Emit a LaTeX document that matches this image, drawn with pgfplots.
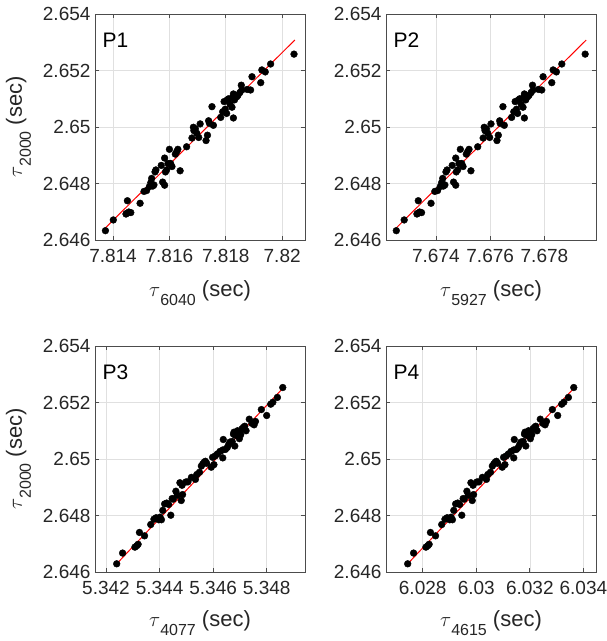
\documentclass[border=0pt]{standalone}
\usepackage{pgfplots}
\usepackage{pgfplotstable}
\usepackage{fontspec}
\setmainfont{Liberation Sans}
\pgfplotsset{compat=1.18}

\pgfplotstableread{
y x6040 x5927
2.64633 7.81373 7.67254
2.64671 7.81401 7.67283
2.64739 7.81451 7.67335
2.64694 7.81448 7.67332
2.64699 7.81456 7.67340
2.64697 7.81463 7.67347
2.64692 7.81446 7.67330
2.64730 7.81496 7.67382
2.64772 7.81510 7.67396
2.64775 7.81519 7.67406
2.64789 7.81529 7.67416
2.64803 7.81534 7.67421
2.64818 7.81537 7.67425
2.64791 7.81541 7.67428
2.64795 7.81545 7.67433
2.64841 7.81549 7.67437
2.64848 7.81552 7.67441
2.64864 7.81571 7.67460
2.64805 7.81576 7.67465
2.64890 7.81583 7.67473
2.64794 7.81583 7.67473
2.64841 7.81586 7.67475
2.64848 7.81590 7.67480
2.64871 7.81595 7.67485
2.64921 7.81600 7.67490
2.64871 7.81604 7.67495
2.64860 7.81609 7.67500
2.64904 7.81621 7.67512
2.64913 7.81626 7.67517
2.64921 7.81630 7.67522
2.64845 7.81638 7.67529
2.64930 7.81661 7.67554
2.64961 7.81680 7.67574
2.64999 7.81685 7.67578
2.64987 7.81687 7.67581
2.64994 7.81692 7.67586
2.64978 7.81697 7.67591
2.64963 7.81704 7.67598
2.65011 7.81709 7.67603
2.64952 7.81730 7.67625
2.64971 7.81735 7.67630
2.65022 7.81739 7.67635
2.65013 7.81742 7.67637
2.65072 7.81751 7.67647
2.65006 7.81756 7.67652
2.65034 7.81782 7.67679
2.65054 7.81789 7.67687
2.65090 7.81794 7.67692
2.65063 7.81798 7.67697
2.65048 7.81803 7.67701
2.65096 7.81805 7.67704
2.65100 7.81810 7.67709
2.65081 7.81815 7.67714
2.65070 7.81822 7.67721
2.65105 7.81824 7.67724
2.65117 7.81827 7.67726
2.65032 7.81827 7.67726
2.65096 7.81831 7.67731
2.65107 7.81839 7.67738
2.65112 7.81843 7.67743
2.65122 7.81850 7.67751
2.65148 7.81855 7.67756
2.65131 7.81857 7.67758
2.65133 7.81876 7.67778
2.65131 7.81888 7.67790
2.65178 7.81893 7.67795
2.65157 7.81924 7.67827
2.65202 7.81928 7.67832
2.65195 7.81940 7.67844
2.65223 7.81959 7.67864
2.65258 7.82042 7.67950
}\tableA

\pgfplotstableread{
y x4077 x4615
2.64629 5.34240 6.02744
2.64667 5.34262 6.02766
2.64688 5.34308 6.02812
2.64693 5.34315 6.02819
2.64698 5.34320 6.02824
2.64740 5.34325 6.02829
2.64728 5.34344 6.02848
2.64768 5.34367 6.02871
2.64787 5.34379 6.02883
2.64792 5.34387 6.02891
2.64785 5.34397 6.02901
2.64794 5.34402 6.02906
2.64785 5.34407 6.02911
2.64818 5.34412 6.02916
2.64841 5.34419 6.02923
2.64844 5.34427 6.02931
2.64839 5.34434 6.02938
2.64801 5.34442 6.02946
2.64860 5.34447 6.02951
2.64858 5.34451 6.02955
2.64886 5.34461 6.02965
2.64872 5.34466 6.02970
2.64916 5.34476 6.02980
2.64853 5.34481 6.02985
2.64907 5.34484 6.02988
2.64874 5.34486 6.02990
2.64919 5.34499 6.03003
2.64919 5.34506 6.03010
2.64935 5.34519 6.03023
2.64928 5.34534 6.03038
2.64945 5.34539 6.03043
2.64953 5.34549 6.03053
2.64975 5.34556 6.03060
2.64982 5.34561 6.03065
2.64988 5.34566 6.03070
2.64992 5.34571 6.03075
2.64985 5.34576 6.03080
2.64971 5.34593 6.03097
2.65006 5.34598 6.03102
2.64980 5.34603 6.03107
2.65011 5.34608 6.03112
2.65018 5.34616 6.03120
2.65027 5.34626 6.03130
2.65032 5.34636 6.03140
2.65069 5.34638 6.03142
2.65004 5.34636 6.03140
2.65034 5.34646 6.03150
2.65041 5.34653 6.03157
2.65051 5.34658 6.03162
2.65060 5.34663 6.03167
2.65062 5.34671 6.03175
2.65088 5.34676 6.03180
2.65095 5.34678 6.03182
2.65046 5.34681 6.03185
2.65084 5.34683 6.03187
2.65100 5.34691 6.03195
2.65093 5.34696 6.03200
2.65072 5.34698 6.03202
2.65086 5.34703 6.03207
2.65107 5.34708 6.03212
2.65112 5.34713 6.03217
2.65116 5.34718 6.03222
2.65100 5.34723 6.03227
2.65141 5.34735 6.03239
2.65126 5.34745 6.03249
2.65121 5.34753 6.03257
2.65133 5.34758 6.03262
2.65175 5.34780 6.03284
2.65154 5.34800 6.03304
2.65194 5.34815 6.03319
2.65201 5.34823 6.03327
2.65218 5.34840 6.03344
2.65253 5.34860 6.03364
}\tableB

\definecolor{axgray}{gray}{0.3}
\definecolor{txgray}{gray}{0.15}
\definecolor{grgray}{gray}{0.88}

\pgfplotsset{
  panel/.style={
    scale only axis,
    width=210pt, height=226pt,
    ymin=2.646, ymax=2.654,
    ytick={2.646,2.648,2.65,2.652,2.654},
    yticklabels={2.646,2.648,2.65,2.652,2.654},
    grid=major,
    grid style={grgray, line width=0.6pt},
    axis line style={axgray, line width=0.8pt},
    tick style={axgray, line width=0.8pt},
    tick align=inside,
    major tick length=4pt,
    tick label style={font=\fontsize{19}{19}\selectfont, text=txgray},
    xticklabel style={yshift=-5.5pt},
    yticklabel style={xshift=-1pt},
    label style={font=\fontsize{22}{22}\selectfont, text=txgray},
    xlabel style={at={(axis description cs:0.5,-0.252)}, anchor=base},
    ylabel style={at={(axis description cs:-0.348,0.5)}, anchor=base, rotate=0},
    clip=false,
  },
  lowpanel/.style={xlabel style={at={(axis description cs:0.5,-0.24)}}},
  dots/.style={only marks, mark=*, mark size=3.4pt, black, mark options={fill=black, draw=black}},
  fit/.style={red, line width=1pt, no marks},
}

\newcommand{\taulab}[1]{$\tau$\raisebox{-9pt}{\fontsize{16}{16}\selectfont #1} (sec)}

\begin{document}
\begin{tikzpicture}[x=1pt,y=1pt]
\useasboundingbox (0,0) rectangle (607,641);

% P1
\begin{axis}[panel, at={(95pt,401pt)}, anchor=south west,
  xmin=7.81336, xmax=7.82081,
  xtick={7.814,7.816,7.818,7.82},
  xticklabels={7.814,7.816,7.818,7.82},
  xlabel={\taulab{6040}},
  ylabel={\taulab{2000}}]
\addplot[dots] table[x=x6040, y=y] {\tableA};
\addplot[fit] coordinates {(7.81368,2.64638) (7.82045,2.65308)};
\node[anchor=base west, font=\fontsize{21}{21}\selectfont, inner sep=0pt] at (rel axis cs:0.035,0.854) {P1};
\end{axis}

% P2
\begin{axis}[panel, at={(386pt,401pt)}, anchor=south west,
  xmin=7.67216, xmax=7.67990,
  xtick={7.674,7.676,7.678},
  xticklabels={7.674,7.676,7.678},
  xlabel={\taulab{5927}}]
\addplot[dots] table[x=x5927, y=y] {\tableA};
\addplot[fit] coordinates {(7.67249,2.64638) (7.67954,2.65308)};
\node[anchor=base west, font=\fontsize{21}{21}\selectfont, inner sep=0pt] at (rel axis cs:0.035,0.854) {P2};
\end{axis}

% P3
\begin{axis}[panel, lowpanel, at={(95pt,69pt)}, anchor=south west,
  xmin=5.34159, xmax=5.34943,
  xtick={5.342,5.344,5.346,5.348},
  xticklabels={5.342,5.344,5.346,5.348},
  xlabel={\taulab{4077}},
  ylabel={\taulab{2000}}]
\addplot[dots] table[x=x4077, y=y] {\tableB};
\addplot[fit] coordinates {(5.34240,2.64629) (5.34865,2.65255)};
\node[anchor=base west, font=\fontsize{21}{21}\selectfont, inner sep=0pt] at (rel axis cs:0.035,0.854) {P3};
\end{axis}

% P4
\begin{axis}[panel, lowpanel, at={(386pt,69pt)}, anchor=south west,
  xmin=6.02663, xmax=6.03447,
  xtick={6.028,6.03,6.032,6.034},
  xticklabels={6.028,6.03,6.032,6.034},
  xlabel={\taulab{4615}}]
\addplot[dots] table[x=x4615, y=y] {\tableB};
\addplot[fit] coordinates {(6.02744,2.64629) (6.03369,2.65255)};
\node[anchor=base west, font=\fontsize{21}{21}\selectfont, inner sep=0pt] at (rel axis cs:0.035,0.854) {P4};
\end{axis}
\end{tikzpicture}
\end{document}
